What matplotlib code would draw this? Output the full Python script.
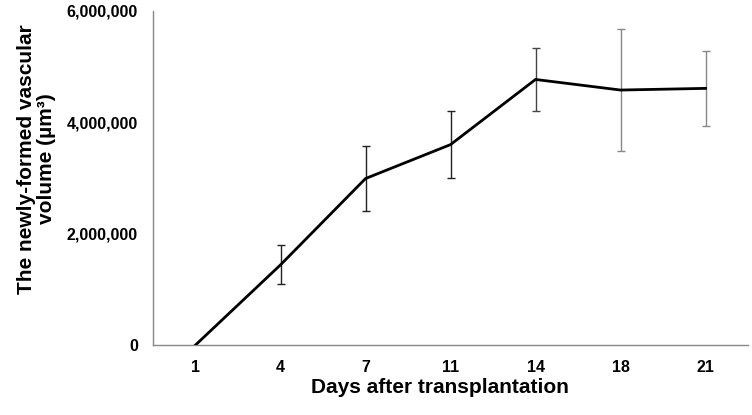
import matplotlib
matplotlib.use("Agg")
import matplotlib.pyplot as plt
import numpy as np

plt.rcParams['font.family'] = ['Liberation Sans', 'DejaVu Sans']

days = ["1", "4", "7", "11", "14", "18", "21"]
volume = [0, 1440000, 2990000, 3600000, 4770000, 4580000, 4610000]
errors = [0, 350000, 580000, 600000, 570000, 1090000, 670000]
err_colors = ["#000000", "#222222", "#222222", "#222222", "#444444", "#888888", "#888888"]

fig = plt.figure(figsize=(7.52, 4.15), dpi=100)
ax = fig.add_axes([0.2035, 0.1687, 0.7912, 0.8048])

x = np.arange(len(days))
ax.plot(x, volume, color="black", lw=2.0, zorder=3, solid_joinstyle='miter')
for i in range(1, len(days)):
    ax.errorbar(x[i], volume[i], yerr=errors[i], fmt='none', ecolor=err_colors[i],
                elinewidth=1.0, capsize=3, capthick=1.0, zorder=2)

ax.set_xlim(-0.5, len(days) - 0.5)
ax.set_ylim(0, 6000000)
ax.set_xticks(x)
ax.set_xticklabels(days)
ax.set_yticks([0, 2000000, 4000000, 6000000])
ax.set_yticklabels([f"{v:,}" for v in [0, 2000000, 4000000, 6000000]])
ax.tick_params(axis='both', length=0, labelsize=11.5)
ax.tick_params(axis='y', pad=11)
ax.tick_params(axis='x', pad=11)
for lbl in ax.get_xticklabels() + ax.get_yticklabels():
    lbl.set_fontweight('bold')

for s in ['top', 'right']:
    ax.spines[s].set_visible(False)
for s in ['left', 'bottom']:
    ax.spines[s].set_color('#888888')
    ax.spines[s].set_linewidth(1.0)

ax.set_xlabel("Days after transplantation", fontsize=15, fontweight='bold')
ax.xaxis.set_label_coords(0.482, -0.10)
ax.xaxis.label.set_va('top')
ax.set_ylabel("The newly-formed vascular\nvolume (µm³)", fontsize=15, fontweight='bold',
              linespacing=1.1)
ax.yaxis.set_label_coords(-0.163, 0.557)

fig.savefig("out.png", dpi=100)
